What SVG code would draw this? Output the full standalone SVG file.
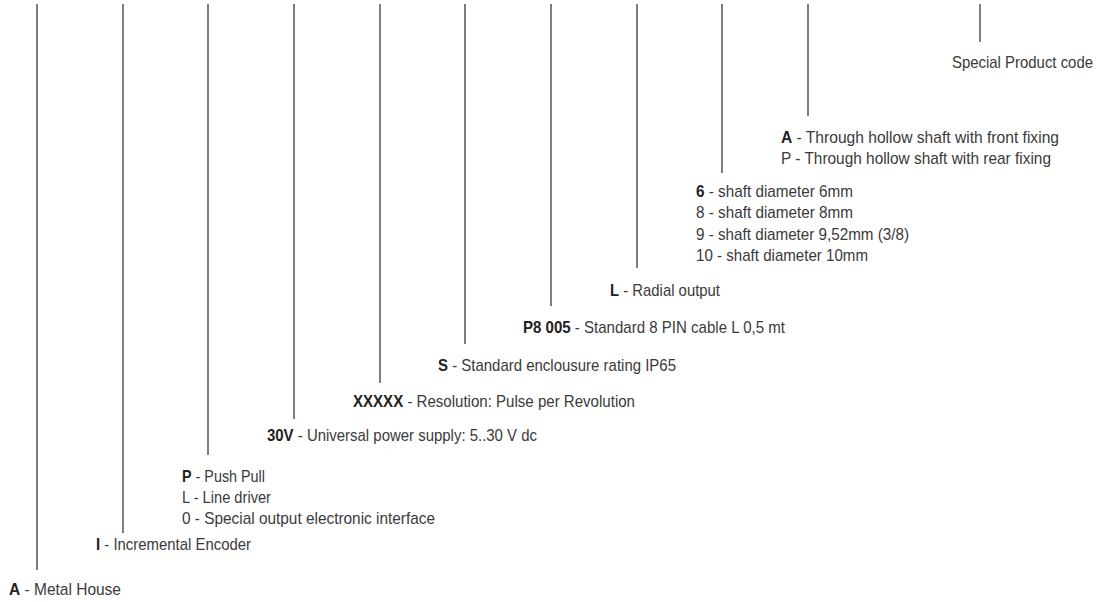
<svg xmlns="http://www.w3.org/2000/svg" width="1106" height="602" viewBox="0 0 1106 602">
<style>
  .lbl { font-family: "Liberation Sans", Arial, sans-serif; font-size: 16.2px; fill: #3a3a3a; }
  .b { font-weight: bold; fill: #222; }
  .conn line { stroke: #3a3a3a; stroke-width: 1.3; fill: none; }
</style>
<rect width="1106" height="602" fill="#fff"/>
<g id="connectors" class="conn">
  <line x1="37" y1="4" x2="37" y2="570"/>
  <line x1="123" y1="4" x2="123" y2="533"/>
  <line x1="208" y1="4" x2="208" y2="455"/>
  <line x1="294" y1="4" x2="294" y2="419"/>
  <line x1="380" y1="4" x2="380" y2="383"/>
  <line x1="465" y1="4" x2="465" y2="344"/>
  <line x1="551" y1="4" x2="551" y2="306"/>
  <line x1="637" y1="4" x2="637" y2="268"/>
  <line x1="722" y1="4" x2="722" y2="173"/>
  <line x1="808" y1="4" x2="808" y2="116"/>
  <line x1="980" y1="4" x2="980" y2="42"/>
</g>
<g id="node-special" class="lbl"><text x="952" y="68" textLength="141" lengthAdjust="spacingAndGlyphs">Special Product code</text></g>
<g id="node-fixing" class="lbl">
  <text x="781" y="143" textLength="278" lengthAdjust="spacingAndGlyphs"><tspan class="b">A</tspan> - Through hollow shaft with front fixing</text>
  <text x="781" y="164" textLength="270" lengthAdjust="spacingAndGlyphs">P - Through hollow shaft with rear fixing</text>
</g>
<g id="node-shaft" class="lbl">
  <text x="696" y="197" textLength="157" lengthAdjust="spacingAndGlyphs"><tspan class="b">6</tspan> - shaft diameter 6mm</text>
  <text x="696" y="218" textLength="157" lengthAdjust="spacingAndGlyphs">8 - shaft diameter 8mm</text>
  <text x="696" y="240" textLength="213" lengthAdjust="spacingAndGlyphs">9 - shaft diameter 9,52mm (3/8)</text>
  <text x="696" y="261" textLength="172" lengthAdjust="spacingAndGlyphs">10 - shaft diameter 10mm</text>
</g>
<g id="node-output" class="lbl"><text x="610" y="296" textLength="110" lengthAdjust="spacingAndGlyphs"><tspan class="b">L</tspan> - Radial output</text></g>
<g id="node-cable" class="lbl"><text x="523" y="333" textLength="262" lengthAdjust="spacingAndGlyphs"><tspan class="b">P8 005</tspan> - Standard 8 PIN cable L 0,5 mt</text></g>
<g id="node-enclosure" class="lbl"><text x="438" y="371" textLength="238" lengthAdjust="spacingAndGlyphs"><tspan class="b">S</tspan> - Standard enclousure rating IP65</text></g>
<g id="node-resolution" class="lbl"><text x="353" y="407" textLength="282" lengthAdjust="spacingAndGlyphs"><tspan class="b">XXXXX</tspan> - Resolution: Pulse per Revolution</text></g>
<g id="node-supply" class="lbl"><text x="267" y="441" textLength="270" lengthAdjust="spacingAndGlyphs"><tspan class="b">30V</tspan> - Universal power supply: 5..30 V dc</text></g>
<g id="node-interface" class="lbl">
  <text x="182" y="482" textLength="83" lengthAdjust="spacingAndGlyphs"><tspan class="b">P</tspan> - Push Pull</text>
  <text x="182" y="503" textLength="89" lengthAdjust="spacingAndGlyphs">L - Line driver</text>
  <text x="182" y="524" textLength="253" lengthAdjust="spacingAndGlyphs">0 - Special output electronic interface</text>
</g>
<g id="node-encoder" class="lbl"><text x="96" y="550" textLength="155" lengthAdjust="spacingAndGlyphs"><tspan class="b">I</tspan> - Incremental Encoder</text></g>
<g id="node-house" class="lbl"><text x="9" y="595" textLength="112" lengthAdjust="spacingAndGlyphs"><tspan class="b">A</tspan> - Metal House</text></g>
</svg>
